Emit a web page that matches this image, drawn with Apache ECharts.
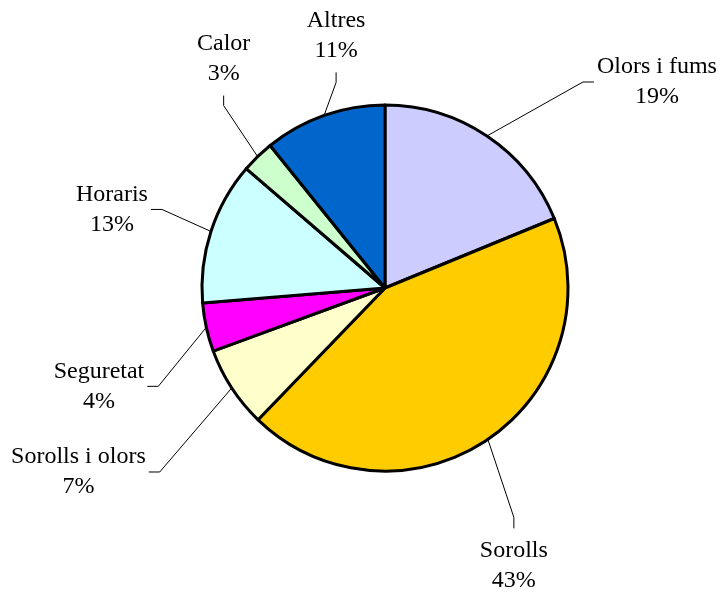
<!DOCTYPE html>
<html>
<head>
<meta charset="utf-8">
<script src="https://cdn.jsdelivr.net/npm/echarts@6/dist/echarts.min.js"></script>
<style>
  html, body { margin: 0; padding: 0; background: #fff; }
  #chart { width: 723px; height: 594px; }
</style>
</head>
<body>
<div id="chart"></div>
<script>
var categories = ["Olors i fums", "Sorolls", "Sorolls i olors", "Seguretat", "Horaris", "Calor", "Altres"];
var shares = [18.8, 43.4, 7.2, 4.3, 12.6, 2.9, 10.8];
var colors = ["#CCCCFF", "#FFCC00", "#FFFFCC", "#FF00FF", "#CCFFFF", "#CCFFCC", "#0066CC"];

// leader lines: elbow offset from the slice edge, then a short stub towards the label
var guides = [
  { dx: 96, dy: -54, side: "right" },
  { dx: 26, dy: 78, side: "down" },
  { dx: -72, dy: 84, side: "left" },
  { dx: -48, dy: 59, side: "left" },
  { dx: -49, dy: -22, side: "left" },
  { dx: -34, dy: -51, side: "up" },
  { dx: 12, dy: -33, side: "up" }
];

var myChart = echarts.init(document.getElementById("chart"));

var pieData = categories.map(function (name, i) {
  return { name: name, value: shares[i], itemStyle: { color: colors[i] } };
});

var option = {
  animation: false,
  backgroundColor: "#fff",
  series: [
    {
      type: "pie",
      center: [385, 288],
      radius: 183,
      startAngle: 90,
      clockwise: true,
      avoidLabelOverlap: false,
      percentPrecision: 0,
      emphasis: { disabled: true },
      itemStyle: {
        borderColor: "#000",
        borderWidth: 3
      },
      label: {
        show: true,
        position: "outside",
        formatter: "{b}\n{d}%",
        fontFamily: "Liberation Serif",
        fontSize: 24,
        lineHeight: 30,
        color: "#000"
      },
      labelLine: {
        show: true,
        length: 20,
        length2: 10,
        lineStyle: { color: "#000", width: 1 }
      },
      labelLayout: function (params) {
        var g = guides[params.dataIndex];
        var p0 = params.labelLinePoints[0];
        var p1 = [p0[0] + g.dx, p0[1] + g.dy];
        var w = params.labelRect.width;
        var stub = 11;
        var p2, x, y, va = "middle";
        if (g.side === "right") {
          p2 = [p1[0] + stub, p1[1]];
          x = p2[0] + 3 + w / 2;
          y = p2[1];
        } else if (g.side === "left") {
          p2 = [p1[0] - stub, p1[1]];
          x = p2[0] - 3 - w / 2;
          y = p2[1];
        } else if (g.side === "up") {
          p2 = [p1[0], p1[1] - 10];
          x = p2[0];
          y = p2[1] - 7;
          va = "bottom";
        } else {
          p2 = [p1[0], p1[1] + stub];
          x = p2[0];
          y = p2[1] + 7;
          va = "top";
        }
        return {
          x: x,
          y: y,
          align: "center",
          verticalAlign: va,
          labelLinePoints: [p0, p1, p2]
        };
      },
      data: pieData
    }
  ]
};

myChart.setOption(option);
window.addEventListener("resize", function () {
  myChart.resize();
});
</script>
</body>
</html>
